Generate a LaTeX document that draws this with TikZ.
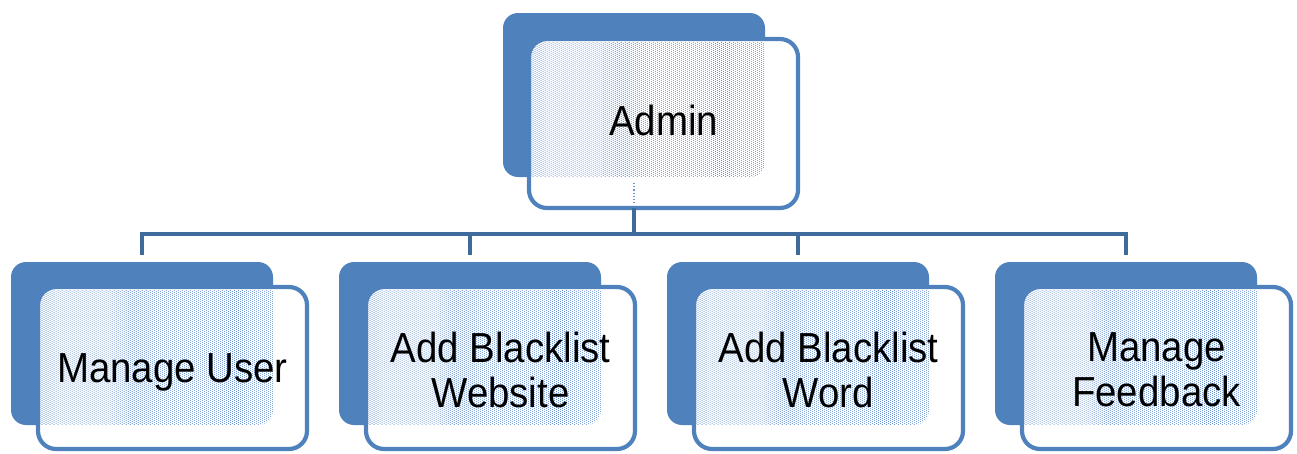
\documentclass[tikz,border=0pt]{standalone}
\usepackage{fontspec}
\setmainfont{Liberation Sans}[FakeStretch=0.915]

\definecolor{accent}{HTML}{4F81BD}
\definecolor{linkblue}{HTML}{3E6A9C}
\definecolor{dotblue}{RGB}{105,148,210}

\tikzset{
  backbox/.style={draw=none, fill=accent, rounded corners=15pt,
    minimum width=262pt, inner sep=0pt, outer sep=0pt},
  frontbox/.style={draw=accent, line width=4.2pt, fill=white, rounded corners=18pt,
    minimum width=269pt, inner sep=0pt, outer sep=0pt},
  boxtext/.style={font=\fontsize{42}{45}\selectfont, align=center, text=black,
    inner sep=0pt},
  conn/.style={draw=linkblue, line width=4pt},
  dotrow/.style={draw=dotblue, line width=1.1pt, line cap=round,
    dash pattern=on 0.01pt off 4pt},
}

% rows of offset dots over the region where a card overlaps its shadow
\newcommand{\cardshade}[3]{% #1 = card index, #2 = first row y, #3 = last row y
  \begin{scope}
    \clip[rounded corners=15pt] (b#1.north west) rectangle (b#1.south east);
    \clip[rounded corners=16pt]
      ([shift={(2pt,-2pt)}]f#1.north west) rectangle ([shift={(-2pt,2pt)}]f#1.south east);
    \foreach \yy [count=\k] in {#2,...,#3} {
      \pgfmathsetmacro\ph{2*mod(\k,2)}
      \draw[dotrow, dash phase=\ph pt] (f#1.west |- 0,\yy) -- (b#1.east |- 0,\yy);
    }
  \end{scope}
}

\begin{document}
\begin{tikzpicture}[x=1pt, y=-1pt]
  \useasboundingbox (0,0) rectangle (1297,453);

  % root card
  \node[backbox, minimum height=164pt] (b0) at (634,95) {};
  \node[frontbox, minimum height=169pt] (f0) at (663.5,123.5) {};
  \cardshade{0}{{41,43}}{177}
  \draw[dotblue, dotted, line width=1.2pt]
    ([yshift=-6pt]b0.south) -- ([yshift=3pt]b0.south |- f0.south);
  \node[boxtext] (t0) at ([yshift=3pt]f0.center) {Admin};

  % child cards
  \foreach \i/\x/\dy/\txt in {1/11/4/{Manage User},
                              2/339/2/{Add Blacklist\\Website},
                              3/667/2/{Add Blacklist\\Word},
                              4/995/2/{Manage\\Feedback}} {
    \node[backbox, minimum height=163pt] (b\i) at (\x+131,343.5) {};
    \node[frontbox, minimum height=162pt] (f\i) at (\x+161.5,368) {};
    \cardshade{\i}{{289,291}}{425}
    \node[boxtext] (t\i) at ([yshift=-\dy pt]f\i.center) {\txt};
  }

  % org-chart connectors
  \coordinate (bus) at (0,234);
  \foreach \i in {1,...,4} {
    \draw[conn, shorten >=7pt] (b0.south |- f0.south) |- (bus -| b\i.north) -- (b\i.north);
  }
\end{tikzpicture}
\end{document}
